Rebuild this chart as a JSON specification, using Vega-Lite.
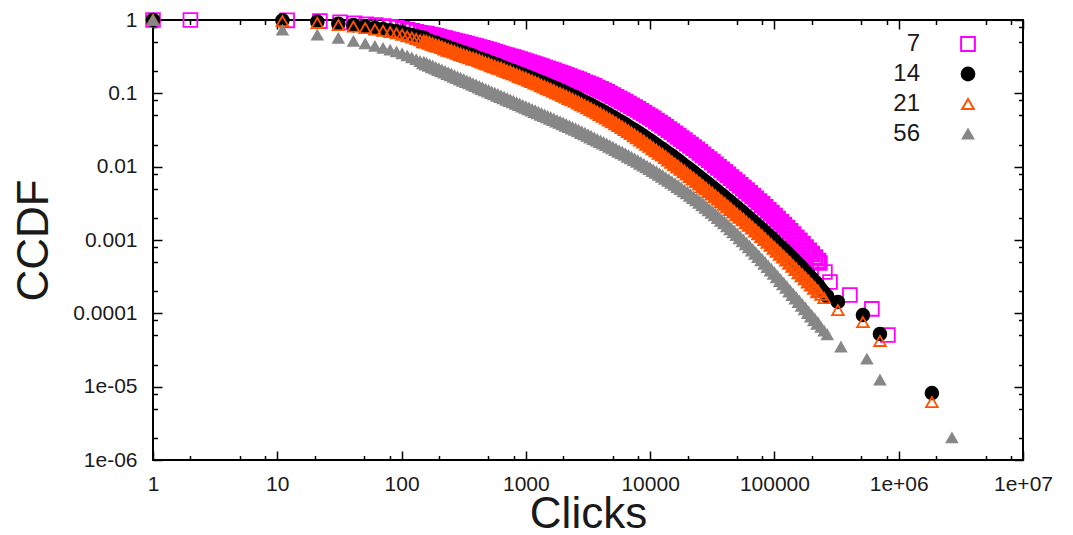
{
"$schema": "https://vega.github.io/schema/vega-lite/v6.json",
"width": 870, "height": 440,
"autosize": {"type": "none"},
"padding": {"left": 153, "top": 20, "right": 50, "bottom": 75},
"background": "white",
"config": {
  "view": {"stroke": "#000", "strokeWidth": 2},
  "axis": {"domain": false, "grid": false, "ticks": true, "tickColor": "#000", "tickWidth": 1.5, "labelFont": "Liberation Sans", "labelFontSize": 21, "labelColor": "#1a1a1a", "titleFont": "Liberation Sans", "titleFontSize": 44, "titleFontWeight": "normal", "titleColor": "#1a1a1a", "labelOverlap": false, "labelFlush": false}
},
"layer": [
{
"data": {"values": [
{"s":"7","x":1,"y":1},{"s":"7","x":2,"y":1},{"s":"7","x":12,"y":0.989},{"s":"7","x":22,"y":0.966},{"s":"7","x":32,"y":0.933},{"s":"7","x":42,"y":0.902},{"s":"7","x":52,"y":0.875},{"s":"7","x":62,"y":0.851},{"s":"7","x":72,"y":0.828},{"s":"7","x":82,"y":0.805},{"s":"7","x":92,"y":0.782},{"s":"7","x":102,"y":0.759},{"s":"7","x":112,"y":0.735},{"s":"7","x":122,"y":0.711},{"s":"7","x":132,"y":0.69},{"s":"7","x":142,"y":0.668},{"s":"7","x":152,"y":0.647},
{"s":"7","x":158.5,"y":0.638},{"s":"7","x":167.9,"y":0.624},{"s":"7","x":177.8,"y":0.61},{"s":"7","x":188.4,"y":0.596},{"s":"7","x":199.5,"y":0.582},{"s":"7","x":211.3,"y":0.567},{"s":"7","x":223.9,"y":0.555},{"s":"7","x":237.1,"y":0.541},{"s":"7","x":251.2,"y":0.528},{"s":"7","x":266.1,"y":0.515},{"s":"7","x":281.8,"y":0.502},{"s":"7","x":298.5,"y":0.491},{"s":"7","x":316.2,"y":0.479},{"s":"7","x":335,"y":0.467},{"s":"7","x":354.8,"y":0.454},{"s":"7","x":375.8,"y":0.443},{"s":"7","x":398.1,"y":0.432},{"s":"7","x":421.7,"y":0.42},{"s":"7","x":446.7,"y":0.409},{"s":"7","x":473.2,"y":0.397},{"s":"7","x":501.2,"y":0.387},{"s":"7","x":530.9,"y":0.375},{"s":"7","x":562.3,"y":0.364},{"s":"7","x":595.7,"y":0.353},{"s":"7","x":631,"y":0.343},{"s":"7","x":668.3,"y":0.333},{"s":"7","x":707.9,"y":0.324},{"s":"7","x":749.9,"y":0.314},{"s":"7","x":794.3,"y":0.306},{"s":"7","x":841.4,"y":0.297},{"s":"7","x":891.3,"y":0.287},{"s":"7","x":944.1,"y":0.279},
{"s":"7","x":1000,"y":0.27},{"s":"7","x":1059,"y":0.262},{"s":"7","x":1122,"y":0.254},{"s":"7","x":1189,"y":0.246},{"s":"7","x":1259,"y":0.239},{"s":"7","x":1334,"y":0.231},{"s":"7","x":1413,"y":0.223},{"s":"7","x":1496,"y":0.216},{"s":"7","x":1585,"y":0.208},{"s":"7","x":1679,"y":0.202},{"s":"7","x":1778,"y":0.195},{"s":"7","x":1884,"y":0.188},{"s":"7","x":1995,"y":0.182},{"s":"7","x":2113,"y":0.176},{"s":"7","x":2239,"y":0.169},{"s":"7","x":2371,"y":0.163},{"s":"7","x":2512,"y":0.157},{"s":"7","x":2661,"y":0.152},{"s":"7","x":2818,"y":0.145},{"s":"7","x":2985,"y":0.139},{"s":"7","x":3162,"y":0.134},{"s":"7","x":3350,"y":0.129},{"s":"7","x":3548,"y":0.124},{"s":"7","x":3758,"y":0.118},{"s":"7","x":3981,"y":0.113},{"s":"7","x":4217,"y":0.108},{"s":"7","x":4467,"y":0.103},{"s":"7","x":4732,"y":0.0977},{"s":"7","x":5012,"y":0.0931},{"s":"7","x":5309,"y":0.0883},{"s":"7","x":5623,"y":0.0837},{"s":"7","x":5957,"y":0.0796},{"s":"7","x":6310,"y":0.0755},{"s":"7","x":6683,"y":0.0715},{"s":"7","x":7079,"y":0.0674},{"s":"7","x":7499,"y":0.0638},{"s":"7","x":7943,"y":0.0604},{"s":"7","x":8414,"y":0.0569},{"s":"7","x":8913,"y":0.0536},{"s":"7","x":9441,"y":0.0506},
{"s":"7","x":10000,"y":0.0476},{"s":"7","x":10590,"y":0.0447},{"s":"7","x":11220,"y":0.0418},{"s":"7","x":11890,"y":0.0392},{"s":"7","x":12590,"y":0.0368},{"s":"7","x":13340,"y":0.0343},{"s":"7","x":14130,"y":0.032},{"s":"7","x":14960,"y":0.03},{"s":"7","x":15850,"y":0.0279},{"s":"7","x":16790,"y":0.026},{"s":"7","x":17780,"y":0.0242},{"s":"7","x":18840,"y":0.0226},{"s":"7","x":19950,"y":0.021},{"s":"7","x":21130,"y":0.0196},{"s":"7","x":22390,"y":0.0182},{"s":"7","x":23710,"y":0.0169},{"s":"7","x":25120,"y":0.0157},{"s":"7","x":26610,"y":0.0145},{"s":"7","x":28180,"y":0.0134},{"s":"7","x":29850,"y":0.0125},{"s":"7","x":31620,"y":0.0115},{"s":"7","x":33500,"y":0.0106},{"s":"7","x":35480,"y":0.00979},{"s":"7","x":37580,"y":0.00906},{"s":"7","x":39810,"y":0.00835},{"s":"7","x":42170,"y":0.00771},{"s":"7","x":44670,"y":0.00709},{"s":"7","x":47320,"y":0.00655},{"s":"7","x":50120,"y":0.00604},{"s":"7","x":53090,"y":0.00556},{"s":"7","x":56230,"y":0.00511},{"s":"7","x":59570,"y":0.0047},{"s":"7","x":63100,"y":0.00433},{"s":"7","x":66830,"y":0.00396},{"s":"7","x":70790,"y":0.00363},{"s":"7","x":74990,"y":0.00333},{"s":"7","x":79430,"y":0.00305},{"s":"7","x":84140,"y":0.00278},{"s":"7","x":89130,"y":0.00253},{"s":"7","x":94410,"y":0.00232},
{"s":"7","x":100000,"y":0.00211},{"s":"7","x":105900,"y":0.00192},{"s":"7","x":112200,"y":0.00175},{"s":"7","x":118900,"y":0.00159},{"s":"7","x":125900,"y":0.00145},{"s":"7","x":133400,"y":0.00131},{"s":"7","x":141300,"y":0.00118},{"s":"7","x":149600,"y":0.00107},{"s":"7","x":158500,"y":0.000971},{"s":"7","x":167900,"y":0.000875},{"s":"7","x":177800,"y":0.000789},{"s":"7","x":188400,"y":0.000711},{"s":"7","x":199500,"y":0.000641},{"s":"7","x":211300,"y":0.000576},{"s":"7","x":223900,"y":0.000516},{"s":"7","x":232300,"y":0.000485},{"s":"7","x":254700,"y":0.000366},{"s":"7","x":279900,"y":0.000267},{"s":"7","x":404600,"y":0.000178},{"s":"7","x":608100,"y":0.000115},{"s":"7","x":818500,"y":0.0000506},
{"s":"14","x":1,"y":1},{"s":"14","x":11,"y":0.989},{"s":"14","x":21,"y":0.948},{"s":"14","x":31,"y":0.891},{"s":"14","x":41,"y":0.851},{"s":"14","x":51,"y":0.813},{"s":"14","x":61,"y":0.78},{"s":"14","x":71,"y":0.75},{"s":"14","x":81,"y":0.724},{"s":"14","x":91,"y":0.7},{"s":"14","x":101,"y":0.676},{"s":"14","x":111,"y":0.646},{"s":"14","x":121,"y":0.624},{"s":"14","x":131,"y":0.603},{"s":"14","x":141,"y":0.582},{"s":"14","x":151,"y":0.562},
{"s":"14","x":158.5,"y":0.523},{"s":"14","x":167.9,"y":0.507},{"s":"14","x":177.8,"y":0.493},{"s":"14","x":188.4,"y":0.48},{"s":"14","x":199.5,"y":0.459},{"s":"14","x":211.3,"y":0.445},{"s":"14","x":223.9,"y":0.432},{"s":"14","x":237.1,"y":0.418},{"s":"14","x":251.2,"y":0.401},{"s":"14","x":266.1,"y":0.387},{"s":"14","x":281.8,"y":0.375},{"s":"14","x":298.5,"y":0.363},{"s":"14","x":316.2,"y":0.352},{"s":"14","x":335,"y":0.34},{"s":"14","x":354.8,"y":0.329},{"s":"14","x":375.8,"y":0.318},{"s":"14","x":398.1,"y":0.303},{"s":"14","x":421.7,"y":0.293},{"s":"14","x":446.7,"y":0.283},{"s":"14","x":473.2,"y":0.274},{"s":"14","x":501.2,"y":0.265},{"s":"14","x":530.9,"y":0.255},{"s":"14","x":562.3,"y":0.246},{"s":"14","x":595.7,"y":0.238},{"s":"14","x":631,"y":0.226},{"s":"14","x":668.3,"y":0.218},{"s":"14","x":707.9,"y":0.211},{"s":"14","x":749.9,"y":0.203},{"s":"14","x":794.3,"y":0.196},{"s":"14","x":841.4,"y":0.189},{"s":"14","x":891.3,"y":0.181},{"s":"14","x":944.1,"y":0.175},
{"s":"14","x":1000,"y":0.169},{"s":"14","x":1059,"y":0.162},{"s":"14","x":1122,"y":0.156},{"s":"14","x":1189,"y":0.15},{"s":"14","x":1259,"y":0.144},{"s":"14","x":1334,"y":0.139},{"s":"14","x":1413,"y":0.133},{"s":"14","x":1496,"y":0.128},{"s":"14","x":1585,"y":0.122},{"s":"14","x":1679,"y":0.118},{"s":"14","x":1778,"y":0.113},{"s":"14","x":1884,"y":0.108},{"s":"14","x":1995,"y":0.104},{"s":"14","x":2113,"y":0.0985},{"s":"14","x":2239,"y":0.0948},{"s":"14","x":2371,"y":0.0904},{"s":"14","x":2512,"y":0.0865},{"s":"14","x":2661,"y":0.0824},{"s":"14","x":2818,"y":0.0785},{"s":"14","x":2985,"y":0.0748},{"s":"14","x":3162,"y":0.0713},{"s":"14","x":3350,"y":0.0678},{"s":"14","x":3548,"y":0.0643},{"s":"14","x":3758,"y":0.0611},{"s":"14","x":3981,"y":0.0581},{"s":"14","x":4217,"y":0.055},{"s":"14","x":4467,"y":0.052},{"s":"14","x":4732,"y":0.0493},{"s":"14","x":5012,"y":0.0467},{"s":"14","x":5309,"y":0.044},{"s":"14","x":5623,"y":0.0415},{"s":"14","x":5957,"y":0.0392},{"s":"14","x":6310,"y":0.037},{"s":"14","x":6683,"y":0.0347},{"s":"14","x":7079,"y":0.0326},{"s":"14","x":7499,"y":0.0307},{"s":"14","x":7943,"y":0.0289},{"s":"14","x":8414,"y":0.0272},{"s":"14","x":8913,"y":0.0254},{"s":"14","x":9441,"y":0.0238},
{"s":"14","x":10000,"y":0.0223},{"s":"14","x":10590,"y":0.0208},{"s":"14","x":11220,"y":0.0194},{"s":"14","x":11890,"y":0.0181},{"s":"14","x":12590,"y":0.017},{"s":"14","x":13340,"y":0.0158},{"s":"14","x":14130,"y":0.0147},{"s":"14","x":14960,"y":0.0138},{"s":"14","x":15850,"y":0.0128},{"s":"14","x":16790,"y":0.0119},{"s":"14","x":17780,"y":0.011},{"s":"14","x":18840,"y":0.0102},{"s":"14","x":19950,"y":0.00948},{"s":"14","x":21130,"y":0.00882},{"s":"14","x":22390,"y":0.00816},{"s":"14","x":23710,"y":0.00757},{"s":"14","x":25120,"y":0.00701},{"s":"14","x":26610,"y":0.00648},{"s":"14","x":28180,"y":0.006},{"s":"14","x":29850,"y":0.00556},{"s":"14","x":31620,"y":0.00514},{"s":"14","x":33500,"y":0.00474},{"s":"14","x":35480,"y":0.00438},{"s":"14","x":37580,"y":0.00405},{"s":"14","x":39810,"y":0.00374},{"s":"14","x":42170,"y":0.00345},{"s":"14","x":44670,"y":0.00317},{"s":"14","x":47320,"y":0.00293},{"s":"14","x":50120,"y":0.0027},{"s":"14","x":53090,"y":0.00248},{"s":"14","x":56230,"y":0.00228},{"s":"14","x":59570,"y":0.0021},{"s":"14","x":63100,"y":0.00193},{"s":"14","x":66830,"y":0.00177},{"s":"14","x":70790,"y":0.00162},{"s":"14","x":74990,"y":0.00149},{"s":"14","x":79430,"y":0.00137},{"s":"14","x":84140,"y":0.00125},{"s":"14","x":89130,"y":0.00114},{"s":"14","x":94410,"y":0.00105},
{"s":"14","x":100000,"y":0.000958},{"s":"14","x":105900,"y":0.000869},{"s":"14","x":112200,"y":0.000791},{"s":"14","x":118900,"y":0.000721},{"s":"14","x":125900,"y":0.000657},{"s":"14","x":133400,"y":0.000595},{"s":"14","x":141300,"y":0.00054},{"s":"14","x":149600,"y":0.000489},{"s":"14","x":158500,"y":0.000443},{"s":"14","x":167900,"y":0.0004},{"s":"14","x":177800,"y":0.00036},{"s":"14","x":188400,"y":0.000326},{"s":"14","x":199500,"y":0.000293},{"s":"14","x":211300,"y":0.000264},{"s":"14","x":223900,"y":0.000236},{"s":"14","x":237100,"y":0.000212},{"s":"14","x":251200,"y":0.00019},{"s":"14","x":266100,"y":0.000171},{"s":"14","x":324300,"y":0.000143},{"s":"14","x":515200,"y":0.0000948},{"s":"14","x":706300,"y":0.0000523},{"s":"14","x":1849000,"y":0.00000818},
{"s":"21","x":1,"y":1},{"s":"21","x":11,"y":0.966},{"s":"21","x":21,"y":0.912},{"s":"21","x":31,"y":0.851},{"s":"21","x":41,"y":0.813},{"s":"21","x":51,"y":0.776},{"s":"21","x":61,"y":0.741},{"s":"21","x":71,"y":0.711},{"s":"21","x":81,"y":0.684},{"s":"21","x":91,"y":0.658},{"s":"21","x":101,"y":0.631},{"s":"21","x":111,"y":0.6},{"s":"21","x":121,"y":0.575},{"s":"21","x":131,"y":0.552},{"s":"21","x":141,"y":0.53},{"s":"21","x":151,"y":0.508},
{"s":"21","x":158.5,"y":0.502},{"s":"21","x":167.9,"y":0.484},{"s":"21","x":177.8,"y":0.466},{"s":"21","x":188.4,"y":0.448},{"s":"21","x":199.5,"y":0.438},{"s":"21","x":211.3,"y":0.421},{"s":"21","x":223.9,"y":0.404},{"s":"21","x":237.1,"y":0.388},{"s":"21","x":251.2,"y":0.378},{"s":"21","x":266.1,"y":0.366},{"s":"21","x":281.8,"y":0.352},{"s":"21","x":298.5,"y":0.34},{"s":"21","x":316.2,"y":0.328},{"s":"21","x":335,"y":0.318},{"s":"21","x":354.8,"y":0.306},{"s":"21","x":375.8,"y":0.295},{"s":"21","x":398.1,"y":0.289},{"s":"21","x":421.7,"y":0.278},{"s":"21","x":446.7,"y":0.267},{"s":"21","x":473.2,"y":0.257},{"s":"21","x":501.2,"y":0.249},{"s":"21","x":530.9,"y":0.239},{"s":"21","x":562.3,"y":0.23},{"s":"21","x":595.7,"y":0.222},{"s":"21","x":631,"y":0.217},{"s":"21","x":668.3,"y":0.207},{"s":"21","x":707.9,"y":0.199},{"s":"21","x":749.9,"y":0.193},{"s":"21","x":794.3,"y":0.185},{"s":"21","x":841.4,"y":0.178},{"s":"21","x":891.3,"y":0.17},{"s":"21","x":944.1,"y":0.163},
{"s":"21","x":1000,"y":0.158},{"s":"21","x":1059,"y":0.151},{"s":"21","x":1122,"y":0.145},{"s":"21","x":1189,"y":0.139},{"s":"21","x":1259,"y":0.134},{"s":"21","x":1334,"y":0.127},{"s":"21","x":1413,"y":0.122},{"s":"21","x":1496,"y":0.117},{"s":"21","x":1585,"y":0.112},{"s":"21","x":1679,"y":0.107},{"s":"21","x":1778,"y":0.102},{"s":"21","x":1884,"y":0.0979},{"s":"21","x":1995,"y":0.0937},{"s":"21","x":2113,"y":0.0895},{"s":"21","x":2239,"y":0.0855},{"s":"21","x":2371,"y":0.0817},{"s":"21","x":2512,"y":0.0779},{"s":"21","x":2661,"y":0.0741},{"s":"21","x":2818,"y":0.0705},{"s":"21","x":2985,"y":0.0672},{"s":"21","x":3162,"y":0.0638},{"s":"21","x":3350,"y":0.0605},{"s":"21","x":3548,"y":0.0574},{"s":"21","x":3758,"y":0.0546},{"s":"21","x":3981,"y":0.0517},{"s":"21","x":4217,"y":0.0489},{"s":"21","x":4467,"y":0.0461},{"s":"21","x":4732,"y":0.0435},{"s":"21","x":5012,"y":0.0411},{"s":"21","x":5309,"y":0.0387},{"s":"21","x":5623,"y":0.0364},{"s":"21","x":5957,"y":0.0342},{"s":"21","x":6310,"y":0.0322},{"s":"21","x":6683,"y":0.0302},{"s":"21","x":7079,"y":0.0283},{"s":"21","x":7499,"y":0.0265},{"s":"21","x":7943,"y":0.0249},{"s":"21","x":8414,"y":0.0232},{"s":"21","x":8913,"y":0.0218},{"s":"21","x":9441,"y":0.0203},
{"s":"21","x":10000,"y":0.019},{"s":"21","x":10590,"y":0.0176},{"s":"21","x":11220,"y":0.0165},{"s":"21","x":11890,"y":0.0153},{"s":"21","x":12590,"y":0.0144},{"s":"21","x":13340,"y":0.0134},{"s":"21","x":14130,"y":0.0124},{"s":"21","x":14960,"y":0.0115},{"s":"21","x":15850,"y":0.0107},{"s":"21","x":16790,"y":0.00995},{"s":"21","x":17780,"y":0.00922},{"s":"21","x":18840,"y":0.00857},{"s":"21","x":19950,"y":0.00795},{"s":"21","x":21130,"y":0.00734},{"s":"21","x":22390,"y":0.00681},{"s":"21","x":23710,"y":0.00629},{"s":"21","x":25120,"y":0.00583},{"s":"21","x":26610,"y":0.00539},{"s":"21","x":28180,"y":0.00499},{"s":"21","x":29850,"y":0.00461},{"s":"21","x":31620,"y":0.00426},{"s":"21","x":33500,"y":0.00393},{"s":"21","x":35480,"y":0.00362},{"s":"21","x":37580,"y":0.00334},{"s":"21","x":39810,"y":0.00308},{"s":"21","x":42170,"y":0.00284},{"s":"21","x":44670,"y":0.00262},{"s":"21","x":47320,"y":0.00241},{"s":"21","x":50120,"y":0.00222},{"s":"21","x":53090,"y":0.00204},{"s":"21","x":56230,"y":0.00189},{"s":"21","x":59570,"y":0.00172},{"s":"21","x":63100,"y":0.00159},{"s":"21","x":66830,"y":0.00146},{"s":"21","x":70790,"y":0.00133},{"s":"21","x":74990,"y":0.00122},{"s":"21","x":79430,"y":0.00112},{"s":"21","x":84140,"y":0.00102},{"s":"21","x":89130,"y":0.000931},{"s":"21","x":94410,"y":0.000849},
{"s":"21","x":100000,"y":0.000776},{"s":"21","x":105900,"y":0.000706},{"s":"21","x":112200,"y":0.000642},{"s":"21","x":118900,"y":0.000586},{"s":"21","x":125900,"y":0.000533},{"s":"21","x":133400,"y":0.000483},{"s":"21","x":141300,"y":0.000438},{"s":"21","x":149600,"y":0.000397},{"s":"21","x":158500,"y":0.000359},{"s":"21","x":167900,"y":0.000327},{"s":"21","x":177800,"y":0.000297},{"s":"21","x":188400,"y":0.000269},{"s":"21","x":199500,"y":0.000243},{"s":"21","x":211300,"y":0.00022},{"s":"21","x":223900,"y":0.000198},{"s":"21","x":237100,"y":0.000179},{"s":"21","x":251200,"y":0.000162},{"s":"21","x":324300,"y":0.000111},{"s":"21","x":515200,"y":0.0000762},{"s":"21","x":706300,"y":0.000042},{"s":"21","x":1849000,"y":0.00000618},
{"s":"56","x":1,"y":1},{"s":"56","x":11,"y":0.731},{"s":"56","x":21,"y":0.624},{"s":"56","x":31,"y":0.562},{"s":"56","x":41,"y":0.513},{"s":"56","x":51,"y":0.473},{"s":"56","x":61,"y":0.437},{"s":"56","x":71,"y":0.412},{"s":"56","x":81,"y":0.389},{"s":"56","x":91,"y":0.367},{"s":"56","x":101,"y":0.347},{"s":"56","x":111,"y":0.324},{"s":"56","x":121,"y":0.305},{"s":"56","x":131,"y":0.288},{"s":"56","x":141,"y":0.272},{"s":"56","x":151,"y":0.257},
{"s":"56","x":158.5,"y":0.248},{"s":"56","x":167.9,"y":0.238},{"s":"56","x":177.8,"y":0.228},{"s":"56","x":188.4,"y":0.218},{"s":"56","x":199.5,"y":0.209},{"s":"56","x":211.3,"y":0.201},{"s":"56","x":223.9,"y":0.192},{"s":"56","x":237.1,"y":0.184},{"s":"56","x":251.2,"y":0.177},{"s":"56","x":266.1,"y":0.169},{"s":"56","x":281.8,"y":0.162},{"s":"56","x":298.5,"y":0.155},{"s":"56","x":316.2,"y":0.149},{"s":"56","x":335,"y":0.143},{"s":"56","x":354.8,"y":0.137},{"s":"56","x":375.8,"y":0.131},{"s":"56","x":398.1,"y":0.126},{"s":"56","x":421.7,"y":0.12},{"s":"56","x":446.7,"y":0.115},{"s":"56","x":473.2,"y":0.11},{"s":"56","x":501.2,"y":0.106},{"s":"56","x":530.9,"y":0.101},{"s":"56","x":562.3,"y":0.0973},{"s":"56","x":595.7,"y":0.0931},{"s":"56","x":631,"y":0.0893},{"s":"56","x":668.3,"y":0.0855},{"s":"56","x":707.9,"y":0.082},{"s":"56","x":749.9,"y":0.0785},{"s":"56","x":794.3,"y":0.0754},{"s":"56","x":841.4,"y":0.0721},{"s":"56","x":891.3,"y":0.0692},{"s":"56","x":944.1,"y":0.0662},
{"s":"56","x":1000,"y":0.0635},{"s":"56","x":1059,"y":0.0609},{"s":"56","x":1122,"y":0.0584},{"s":"56","x":1189,"y":0.0558},{"s":"56","x":1259,"y":0.0536},{"s":"56","x":1334,"y":0.0513},{"s":"56","x":1413,"y":0.0492},{"s":"56","x":1496,"y":0.0471},{"s":"56","x":1585,"y":0.0452},{"s":"56","x":1679,"y":0.0433},{"s":"56","x":1778,"y":0.0414},{"s":"56","x":1884,"y":0.0397},{"s":"56","x":1995,"y":0.038},{"s":"56","x":2113,"y":0.0363},{"s":"56","x":2239,"y":0.0348},{"s":"56","x":2371,"y":0.0332},{"s":"56","x":2512,"y":0.0318},{"s":"56","x":2661,"y":0.0304},{"s":"56","x":2818,"y":0.0289},{"s":"56","x":2985,"y":0.0276},{"s":"56","x":3162,"y":0.0264},{"s":"56","x":3350,"y":0.0251},{"s":"56","x":3548,"y":0.0239},{"s":"56","x":3758,"y":0.0228},{"s":"56","x":3981,"y":0.0217},{"s":"56","x":4217,"y":0.0207},{"s":"56","x":4467,"y":0.0197},{"s":"56","x":4732,"y":0.0187},{"s":"56","x":5012,"y":0.0178},{"s":"56","x":5309,"y":0.0169},{"s":"56","x":5623,"y":0.016},{"s":"56","x":5957,"y":0.0153},{"s":"56","x":6310,"y":0.0145},{"s":"56","x":6683,"y":0.0137},{"s":"56","x":7079,"y":0.013},{"s":"56","x":7499,"y":0.0123},{"s":"56","x":7943,"y":0.0117},{"s":"56","x":8414,"y":0.011},{"s":"56","x":8913,"y":0.0104},{"s":"56","x":9441,"y":0.00984},
{"s":"56","x":10000,"y":0.00929},{"s":"56","x":10590,"y":0.00875},{"s":"56","x":11220,"y":0.00824},{"s":"56","x":11890,"y":0.00776},{"s":"56","x":12590,"y":0.00732},{"s":"56","x":13340,"y":0.00686},{"s":"56","x":14130,"y":0.00644},{"s":"56","x":14960,"y":0.00604},{"s":"56","x":15850,"y":0.00567},{"s":"56","x":16790,"y":0.0053},{"s":"56","x":17780,"y":0.00495},{"s":"56","x":18840,"y":0.00463},{"s":"56","x":19950,"y":0.00433},{"s":"56","x":21130,"y":0.00402},{"s":"56","x":22390,"y":0.00373},{"s":"56","x":23710,"y":0.00348},{"s":"56","x":25120,"y":0.00323},{"s":"56","x":26610,"y":0.00299},{"s":"56","x":28180,"y":0.00276},{"s":"56","x":29850,"y":0.00255},{"s":"56","x":31620,"y":0.00236},{"s":"56","x":33500,"y":0.00217},{"s":"56","x":35480,"y":0.002},{"s":"56","x":37580,"y":0.00183},{"s":"56","x":39810,"y":0.00169},{"s":"56","x":42170,"y":0.00154},{"s":"56","x":44670,"y":0.0014},{"s":"56","x":47320,"y":0.00128},{"s":"56","x":50120,"y":0.00117},{"s":"56","x":53090,"y":0.00106},{"s":"56","x":56230,"y":0.000966},{"s":"56","x":59570,"y":0.000877},{"s":"56","x":63100,"y":0.000796},{"s":"56","x":66830,"y":0.00072},{"s":"56","x":70790,"y":0.000649},{"s":"56","x":74990,"y":0.000586},{"s":"56","x":79430,"y":0.00053},{"s":"56","x":84140,"y":0.000476},{"s":"56","x":89130,"y":0.000428},{"s":"56","x":94410,"y":0.000385},
{"s":"56","x":100000,"y":0.000346},{"s":"56","x":105900,"y":0.00031},{"s":"56","x":112200,"y":0.000277},{"s":"56","x":118900,"y":0.000249},{"s":"56","x":125900,"y":0.000223},{"s":"56","x":133400,"y":0.000199},{"s":"56","x":141300,"y":0.000178},{"s":"56","x":149600,"y":0.000159},{"s":"56","x":158500,"y":0.000143},{"s":"56","x":167900,"y":0.000127},{"s":"56","x":177800,"y":0.000114},{"s":"56","x":188400,"y":0.000101},{"s":"56","x":199500,"y":0.0000906},{"s":"56","x":211300,"y":0.0000807},{"s":"56","x":223900,"y":0.000072},{"s":"56","x":237100,"y":0.0000643},{"s":"56","x":251200,"y":0.0000573},{"s":"56","x":266100,"y":0.0000511},{"s":"56","x":342800,"y":0.0000348},{"s":"56","x":554600,"y":0.0000238},{"s":"56","x":706300,"y":0.00001235},{"s":"56","x":2679000,"y":0.000002}
]},
"mark": {"type": "point", "opacity": 1},
"encoding": {
  "x": {"field": "x", "type": "quantitative", "scale": {"type": "log", "domain": [1, 10000000], "nice": false},
    "axis": {"orient": "bottom", "values": [1,2,5,8,10,20,50,80,100,200,500,800,1000,2000,5000,8000,10000,20000,50000,80000,100000,200000,500000,800000,1000000,2000000,5000000,8000000,10000000],
      "labelExpr": "datum.value == 1000000 ? '1e+06' : datum.value == 10000000 ? '1e+07' : (indexof([1,10,100,1000,10000,100000], datum.value) >= 0 ? toString(datum.value) : '')",
      "tickSize": {"condition": {"test": "indexof([1,10,100,1000,10000,100000,1000000,10000000], datum.value) >= 0", "value": -9}, "value": -4.5},
      "labelPadding": 22, "title": "Clicks", "titleY": 67, "titleBaseline": "alphabetic"}},
  "y": {"field": "y", "type": "quantitative", "scale": {"type": "log", "domain": [0.000001, 1], "nice": false},
    "axis": {"orient": "left", "values": [1,0.8,0.5,0.2,0.1,0.08,0.05,0.02,0.01,0.008,0.005,0.002,0.001,0.0008,0.0005,0.0002,0.0001,0.00008,0.00005,0.00002,0.00001,0.000008,0.000005,0.000002,0.000001],
      "labelExpr": "datum.value == 0.00001 ? '1e-05' : datum.value == 0.000001 ? '1e-06' : (indexof([1,0.1,0.01,0.001,0.0001], datum.value) >= 0 ? toString(datum.value) : '')",
      "tickSize": {"condition": {"test": "indexof([1,0.1,0.01,0.001,0.0001,0.00001,0.000001], datum.value) >= 0", "value": -9}, "value": -4.5},
      "labelPadding": 25, "title": "CCDF", "titleX": -106, "titleY": 220, "titleAngle": -90, "titleAlign": "center", "titleBaseline": "alphabetic"}},
  "shape": {"field": "s", "type": "nominal", "scale": {"domain": ["7","14","21","56"], "range": ["square","circle","triangle-up","triangle-up"]},
    "legend": {"orient": "none", "legendX": 803, "legendY": 12, "title": null, "padding": 0, "labelFont": "Liberation Sans", "labelFontSize": 24, "labelColor": "#1a1a1a", "labelAlign": "right", "labelOffset": -60, "rowPadding": 6, "symbolStrokeWidth": 2}},
  "stroke": {"field": "s", "type": "nominal", "scale": {"domain": ["7","14","21","56"], "range": ["#ff00ff","#000000","#ff5200","#878787"]}},
  "fill": {"field": "s", "type": "nominal", "scale": {"domain": ["7","14","21","56"], "range": ["transparent","#000000","transparent","#878787"]}},
  "size": {"field": "s", "type": "nominal", "scale": {"domain": ["7","14","21","56"], "range": [190,110,200,100]}},
  "strokeWidth": {"condition": {"test": "datum.x > 228000 || datum.x < 150", "value": 1.8}, "value": 3}
}
},
{
"data": {"values": [{"x": 1, "y": 1}]},
"mark": {"type": "point", "opacity": 0},
"encoding": {
  "x": {"field": "x", "type": "quantitative", "scale": {"type": "log", "domain": [1, 10000000], "nice": false},
    "axis": {"orient": "top", "labels": false, "title": null, "values": [1,2,5,8,10,20,50,80,100,200,500,800,1000,2000,5000,8000,10000,20000,50000,80000,100000,200000,500000,800000,1000000,2000000,5000000,8000000,10000000],
      "tickSize": {"condition": {"test": "indexof([1,10,100,1000,10000,100000,1000000,10000000], datum.value) >= 0", "value": -9}, "value": -4.5}}},
  "y": {"field": "y", "type": "quantitative", "scale": {"type": "log", "domain": [0.000001, 1], "nice": false},
    "axis": {"orient": "right", "labels": false, "title": null, "values": [1,0.8,0.5,0.2,0.1,0.08,0.05,0.02,0.01,0.008,0.005,0.002,0.001,0.0008,0.0005,0.0002,0.0001,0.00008,0.00005,0.00002,0.00001,0.000008,0.000005,0.000002,0.000001],
      "tickSize": {"condition": {"test": "indexof([1,0.1,0.01,0.001,0.0001,0.00001,0.000001], datum.value) >= 0", "value": -9}, "value": -4.5}}}
}
}
],
"resolve": {"scale": {"x": "independent", "y": "independent"}}
}
